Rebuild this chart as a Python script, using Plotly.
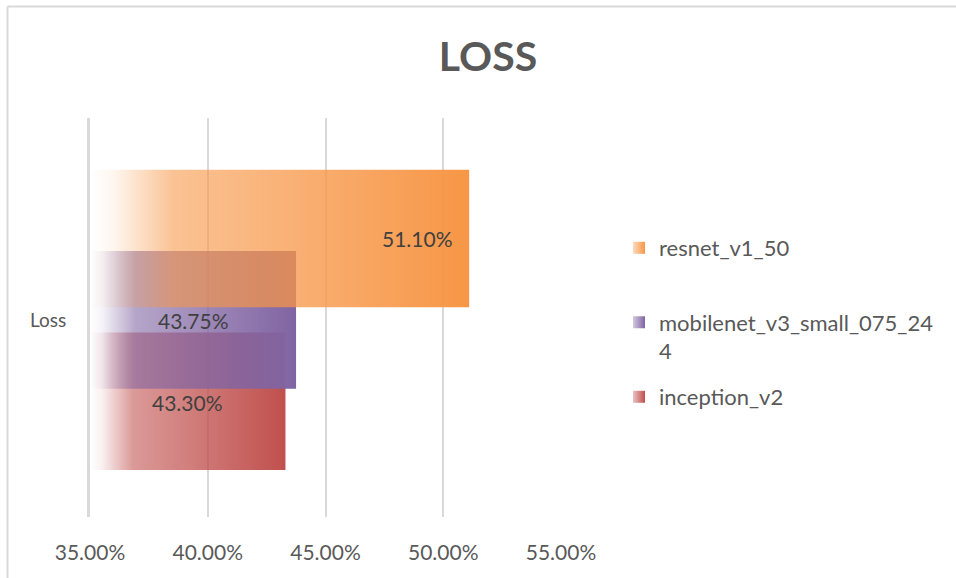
import plotly.graph_objects as go

# ---- data -------------------------------------------------------------
category = "Loss"
series_names = ["inception_v2", "mobilenet_v3_small_075_244", "resnet_v1_50"]
legend_labels = ["inception_v2", "mobilenet_v3_small_075_24<br>4", "resnet_v1_50"]
loss_pct = [43.30, 43.75, 51.10]
x_tick_vals = [35, 40, 45, 50, 55]
x_tick_text = ["35.00%", "40.00%", "45.00%", "50.00%", "55.00%"]

# ---- styling ----------------------------------------------------------
series_rgb = [(192, 80, 77), (128, 100, 162), (247, 150, 70)]
label_mode = ["center", "center", "inside_end"]
AXIS_MIN, AXIS_MAX = 35, 55
BAR_WIDTH = 0.345          # bar thickness in category units
BAR_STEP = 0.204           # distance between overlapping bars
TEXT = "#595959"
GRID = "#d9d9d9"
FONT = "Lato"

W, H = 956, 578
ML, MR, MT, MB = 90, 395, 118, 61
PW, PH = W - ML - MR, H - MT - MB


def paper_x(px):
    return (px - ML) / PW


def paper_y(py):
    return (H - MB - py) / PH


def rgba(rgb, a):
    return f"rgba({rgb[0]},{rgb[1]},{rgb[2]},{a})"


fig = go.Figure()
annotations = []
n = len(series_names)
for i, (name, val, rgb) in enumerate(zip(series_names, loss_pct, series_rgb)):
    yc = (i - (n - 1) / 2) * BAR_STEP
    y0, y1 = yc - BAR_WIDTH / 2, yc + BAR_WIDTH / 2
    fig.add_trace(go.Scatter(
        x=[AXIS_MIN, val, val, AXIS_MIN, AXIS_MIN],
        y=[y0, y0, y1, y1, y0],
        mode="lines",
        fill="toself",
        line=dict(width=0),
        fillgradient=dict(
            type="horizontal",
            colorscale=[[0, rgba(rgb, 0.0)], [0.06, rgba(rgb, 0.08)],
                        [0.22, rgba(rgb, 0.58)], [1, rgba(rgb, 1.0)]],
        ),
        name=name,
        showlegend=False,
        hoverinfo="skip",
    ))
    label_font = dict(family=FONT, size=21, color="#404040")
    if label_mode[i] == "inside_end":
        annotations.append(dict(x=val, y=yc, xref="x", yref="y", text=f"{val:.2f}%",
                                showarrow=False, xanchor="right", xshift=-14,
                                font=label_font))
    else:
        annotations.append(dict(x=(AXIS_MIN + val) / 2, y=yc - 0.002, xref="x", yref="y",
                                text=f"{val:.2f}%", showarrow=False, xanchor="center",
                                font=label_font))

# legend swatches, one legend per series so each entry sits at its own height
legend_ids = ["legend3", "legend2", "legend"]
legend_centers = [397, 337, 248]
for i, (label, rgb) in enumerate(zip(legend_labels, series_rgb)):
    fig.add_trace(go.Scatter(
        x=[None], y=[None], mode="markers",
        marker=dict(symbol="square", size=12, color=rgba(rgb, 0.35),
                    gradient=dict(type="horizontal", color=rgba(rgb, 1.0)),
                    line=dict(width=0)),
        name=label, legend=legend_ids[i], hoverinfo="skip",
    ))

legend_style = dict(x=paper_x(619), xanchor="left", yanchor="middle",
                    bgcolor="rgba(0,0,0,0)", borderwidth=0,
                    font=dict(family=FONT, size=22, color=TEXT), valign="top")
legend_layout = {}
for lid, yc in zip(legend_ids, legend_centers):
    legend_layout[lid] = dict(legend_style, y=paper_y(yc))

# chart frame: top and left edges
frame = [
    dict(type="line", xref="paper", yref="paper",
         x0=paper_x(7.5), x1=paper_x(W), y0=paper_y(6.5), y1=paper_y(6.5),
         line=dict(color=GRID, width=2), layer="below"),
    dict(type="line", xref="paper", yref="paper",
         x0=paper_x(7.5), x1=paper_x(7.5), y0=paper_y(6.5), y1=paper_y(H),
         line=dict(color=GRID, width=2), layer="below"),
]

fig.update_layout(
    width=W, height=H,
    margin=dict(l=ML, r=MR, t=MT, b=MB),
    paper_bgcolor="white", plot_bgcolor="white",
    title=dict(text="<b>LOSS</b>", x=488 / W, xanchor="center", xref="container",
               y=1 - 57 / H, yanchor="middle", yref="container",
               font=dict(family=FONT, size=41, color=TEXT)),
    xaxis=dict(range=[AXIS_MIN, AXIS_MAX], tickvals=x_tick_vals, ticktext=x_tick_text,
               showgrid=True, gridcolor=GRID, gridwidth=2, zeroline=False, showline=False,
               ticks="outside", ticklen=17, tickcolor="rgba(0,0,0,0)",
               tickfont=dict(family=FONT, size=21, color=TEXT), fixedrange=True),
    yaxis=dict(range=[-0.494, 0.506], tickvals=[0], ticktext=[category],
               showgrid=False, zeroline=False, showline=True, linecolor=GRID, linewidth=3,
               ticks="outside", ticklen=17, tickcolor="rgba(0,0,0,0)",
               tickfont=dict(family=FONT, size=19, color=TEXT), fixedrange=True),
    annotations=annotations,
    shapes=frame,
    **legend_layout,
)

fig.write_html(
    "out.html",
    config={"displayModeBar": False},
    post_script="document.documentElement.style.overflow='hidden';"
                "document.body.style.overflow='hidden';document.body.style.margin='0';",
)
